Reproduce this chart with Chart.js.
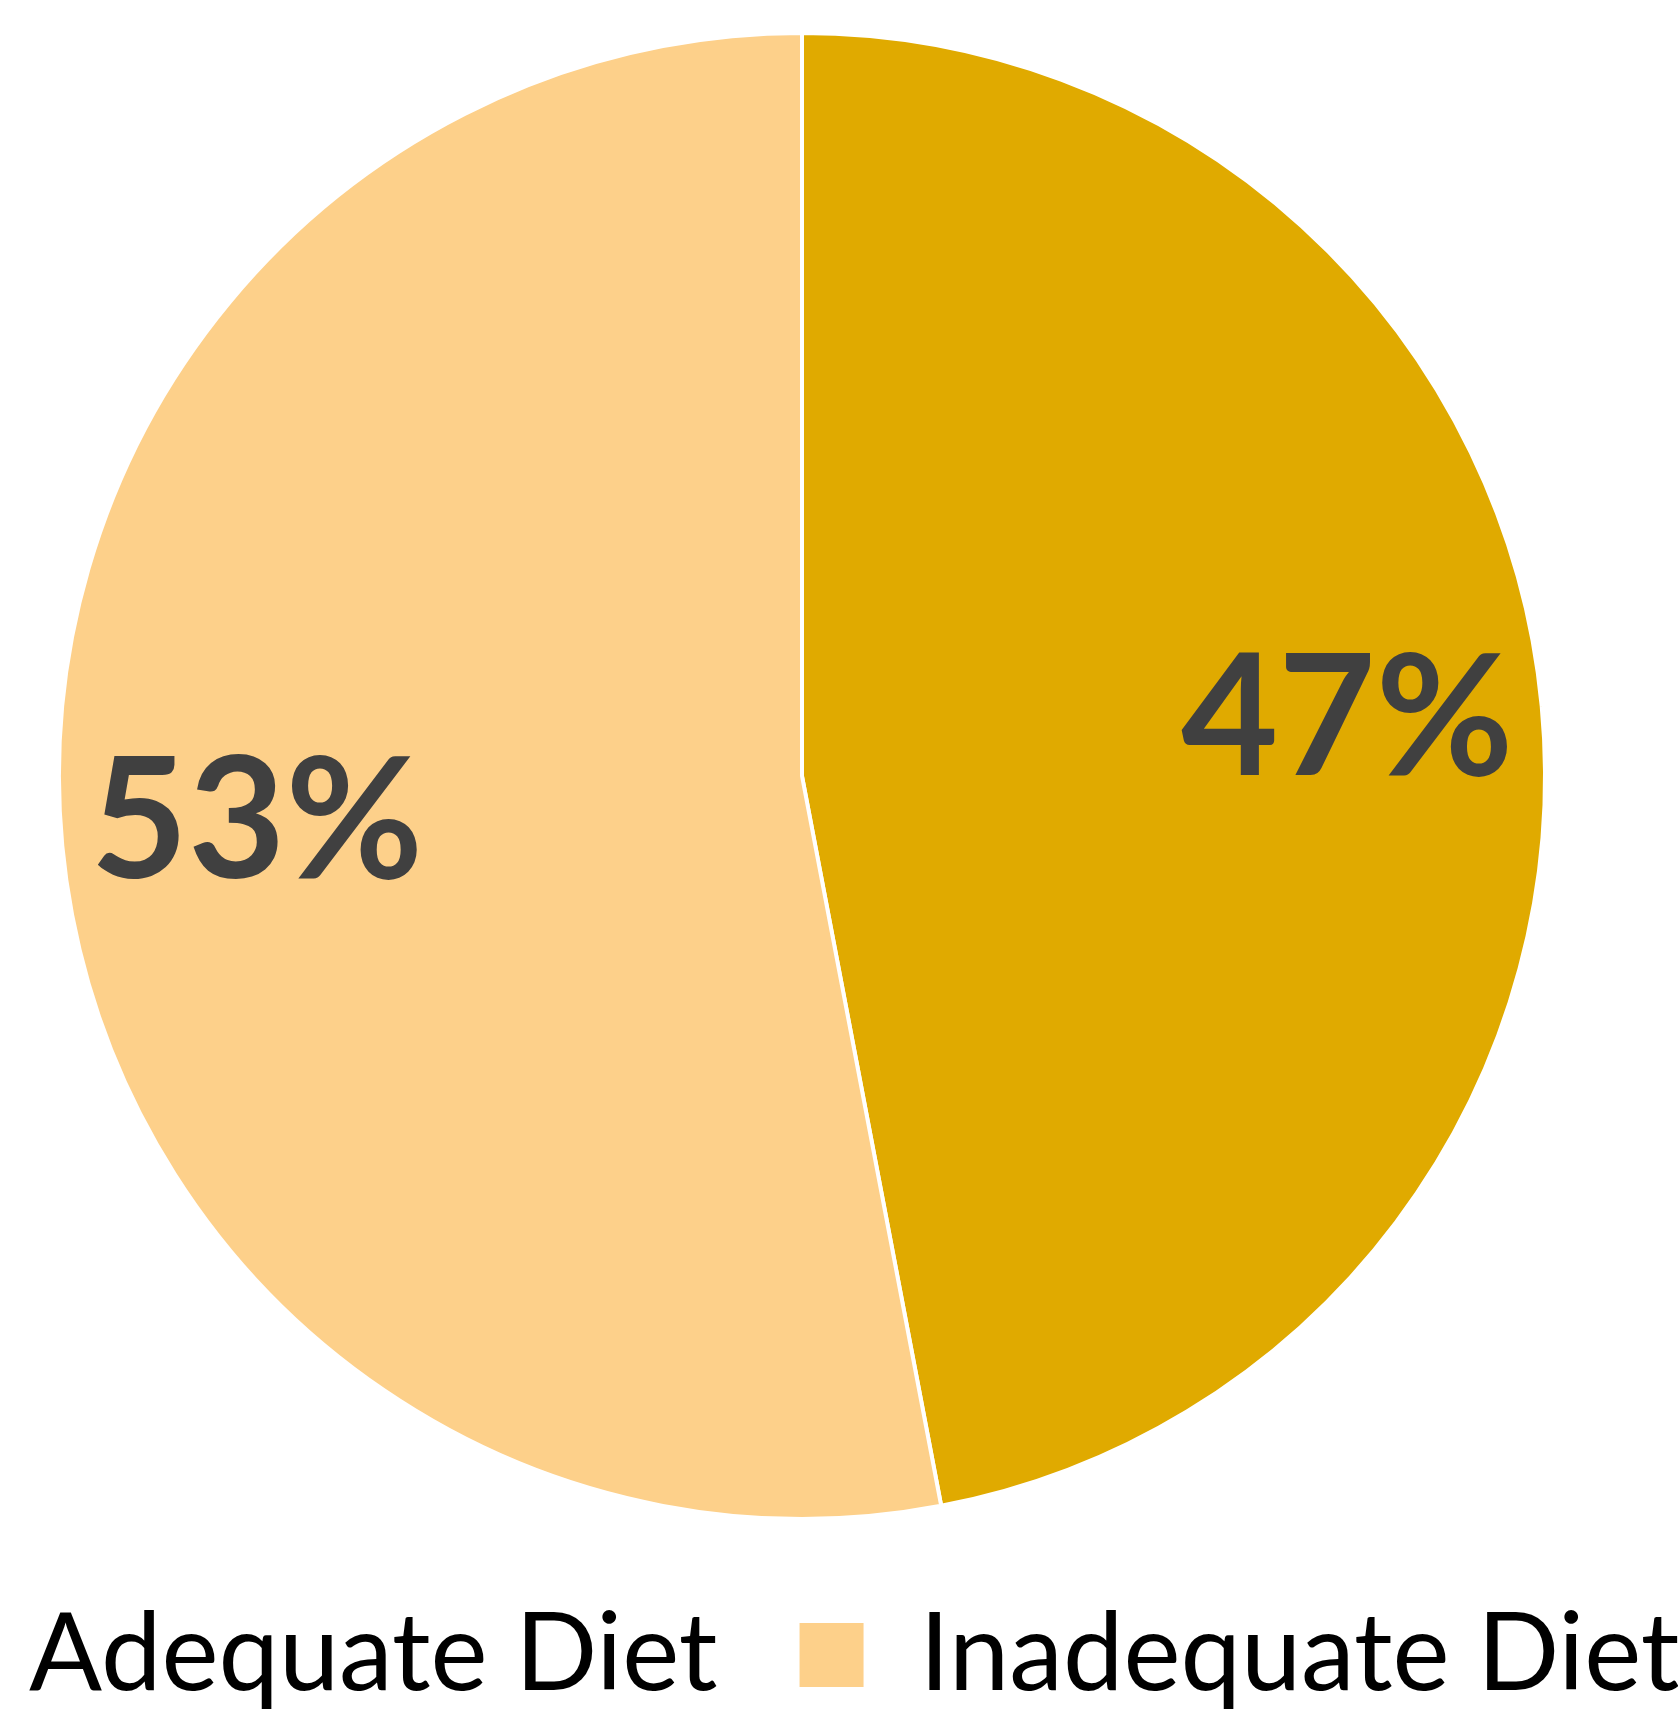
<!DOCTYPE html>
<html>
<head>
<meta charset="utf-8">
<title>Diet</title>
<script src="https://cdn.jsdelivr.net/npm/chart.js@4"></script>
<style>
  html, body { margin: 0; padding: 0; background: #fff; overflow: hidden; }
  body { width: 1678px; height: 1710px; position: relative; }
  #pie { position: absolute; left: -173px; top: 0; }
</style>
</head>
<body>
<canvas id="pie" width="1950" height="1710"></canvas>
<script>
const categories = ["Adequate Diet", "Inadequate Diet"];
const percentages = [47, 53];
const sliceColors = ["#E0AA00", "#FDD08A"];

// writes the percentage inside each slice
const sliceLabels = {
  id: "sliceLabels",
  afterDatasetsDraw(chart) {
    const ctx = chart.ctx;
    const meta = chart.getDatasetMeta(0);
    const size = 168;
    ctx.save();
    ctx.font = "bold " + size + "px Lato";
    ctx.fillStyle = "#404040";
    ctx.textAlign = "center";
    ctx.textBaseline = "alphabetic";
    meta.data.forEach((arc, i) => {
      const p = arc.getProps(["x", "y", "startAngle", "endAngle", "outerRadius"], true);
      const mid = (p.startAngle + p.endAngle) / 2;
      const r = p.outerRadius * 0.737;
      const px = p.x + Math.cos(mid) * r;
      const py = p.y + Math.sin(mid) * r;
      ctx.fillText(percentages[i] + "%", px, py + size * 0.3);
    });
    ctx.restore();
  },
};

const renderChart = () => {
  const canvas = document.getElementById("pie");
  new Chart(canvas, {
    type: "pie",
    data: {
      labels: categories,
      datasets: [
        {
          data: percentages,
          backgroundColor: sliceColors,
          borderColor: "#ffffff",
          borderWidth: 4,
          hoverOffset: 0,
        },
      ],
    },
    options: {
      responsive: false,
      animation: false,
      devicePixelRatio: 1,
      layout: { padding: { top: 31, bottom: -9 } },
      plugins: {
        tooltip: { enabled: false },
        legend: {
          position: "bottom",
          align: "start",
          labels: {
            boxWidth: 68,
            boxHeight: 68,
            padding: 80,
            color: "#000000",
            font: { family: "Lato", size: 108 },
          },
        },
      },
    },
    plugins: [sliceLabels],
  });
};

window.addEventListener("load", renderChart);
</script>
</body>
</html>
